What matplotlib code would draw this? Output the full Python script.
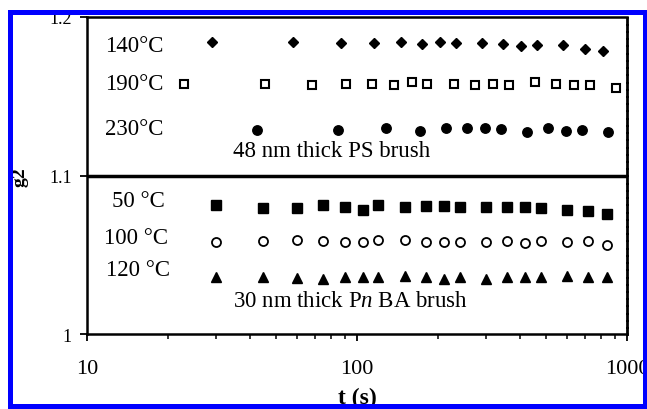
import numpy as np
import matplotlib
matplotlib.use("Agg")
import matplotlib.pyplot as plt
from matplotlib.patches import Rectangle
from matplotlib.ticker import FixedLocator, FixedFormatter, LogLocator, NullFormatter

plt.rcParams['font.family'] = ['Liberation Serif', 'DejaVu Serif']
plt.rcParams['mathtext.fontset'] = 'custom'
plt.rcParams['mathtext.rm'] = 'Liberation Serif'
plt.rcParams['mathtext.it'] = 'Liberation Serif:italic'

# 48 nm PS brush
t_140 = [29, 58, 87, 116, 145, 174, 203, 232, 290, 348, 406, 464, 580, 696, 812]
g_140 = [1.1842, 1.1842, 1.1836, 1.1833, 1.1842, 1.1830, 1.1842, 1.1833, 1.1836,
         1.1830, 1.1820, 1.1823, 1.1823, 1.1798, 1.1785]
t_190 = [22.8, 45.6, 68.4, 91.2, 114, 136.8, 159.6, 182.4, 228, 273.6, 319.2,
         364.8, 456, 547.2, 638.4, 729.6, 912]
g_190 = [1.1577, 1.1580, 1.1571, 1.1577, 1.1577, 1.1571, 1.1590, 1.1577, 1.1577,
         1.1574, 1.1577, 1.1571, 1.1590, 1.1577, 1.1571, 1.1571, 1.1552]
t_230 = [42.6, 85.2, 127.8, 170.4, 213, 255.6, 298.2, 340.8, 426, 511.2, 596.4,
         681.6, 852]
g_230 = [1.1290, 1.1290, 1.1300, 1.1281, 1.1297, 1.1297, 1.1300, 1.1293, 1.1274,
         1.1297, 1.1281, 1.1290, 1.1274]

# 30 nm PnBA brush
t_low = [30, 45, 60, 75, 90, 105, 120, 150, 180, 210, 240, 300, 360, 420, 480,
         600, 720, 840]
g_50 = [1.0817, 1.0792, 1.0792, 1.0811, 1.0804, 1.0785, 1.0814, 1.0801, 1.0808,
        1.0808, 1.0804, 1.0804, 1.0804, 1.0804, 1.0798, 1.0782, 1.0776, 1.0757]
g_100 = [1.0580, 1.0587, 1.0593, 1.0587, 1.0580, 1.0580, 1.0593, 1.0593, 1.0580,
         1.0580, 1.0580, 1.0580, 1.0587, 1.0574, 1.0587, 1.0580, 1.0587, 1.0562]
g_120 = [1.0360, 1.0360, 1.0353, 1.0347, 1.0360, 1.0360, 1.0360, 1.0366, 1.0360,
         1.0347, 1.0360, 1.0347, 1.0360, 1.0360, 1.0360, 1.0366, 1.0360, 1.0360]

fig = plt.figure(figsize=(6.47, 4.10), dpi=100)
ax = fig.add_axes([0.1345, 0.1829, 0.8346, 0.7732])

ax.plot(t_140, g_140, 'D', color='black', ms=5.5, ls='none')
ax.plot(t_190, g_190, 's', mfc='white', mec='black', mew=1.5, ms=6.3, ls='none')
ax.plot(t_230, g_230, 'o', color='black', ms=6.8, ls='none')
ax.plot(t_low, g_50, 's', color='black', ms=6.8, ls='none')
ax.plot(t_low, g_100, 'o', mfc='white', mec='black', mew=1.3, ms=6.5, ls='none')
ax.plot(t_low, g_120, '^', color='black', ms=7.2, ls='none')

ax.axhline(1.1, color='black', lw=2.5)

ax.set_xscale('log')
ax.set_xlim(10, 1000)
ax.set_ylim(1.0, 1.2)

ax.xaxis.set_major_locator(FixedLocator([10, 100, 1000]))
ax.xaxis.set_major_formatter(FixedFormatter(['10', '100', '1000']))
ax.xaxis.set_minor_locator(LogLocator(base=10, subs=np.arange(2, 10)))
ax.xaxis.set_minor_formatter(NullFormatter())
ax.yaxis.set_major_locator(FixedLocator([1.0, 1.1, 1.2]))
ax.yaxis.set_major_formatter(FixedFormatter(['1', '1.1', '1.2']))

ax.tick_params(axis='x', which='major', direction='out', length=5, width=1.3,
               labelsize=16, pad=13)
ax.tick_params(axis='x', which='minor', direction='out', length=3.5, width=1.1)
ax.tick_params(axis='y', which='major', direction='out', length=5, width=1.3,
               labelsize=13, pad=6)

for side in ['left', 'bottom', 'top']:
    ax.spines[side].set_linewidth(1.8)
ax.spines['right'].set_linewidth(2)
ax.spines['right'].set_linestyle((0, (2, 0.6)))

# series labels
txt = dict(fontsize=16.5, ha='left', va='baseline')
ax.text(11.66, 1.1787, '140°C', **txt)
ax.text(11.66, 1.1546, '190°C', **txt)
ax.text(11.66, 1.1262, '230°C', **txt)
ax.text(34.7, 1.1123, '48 nm thick PS brush', **txt)
ax.text(12.37, 1.0808, '50 °C', **txt)
ax.text(11.56, 1.0574, '100 °C', **txt)
ax.text(11.76, 1.0372, '120 °C', **txt)
ax.text(34.7, 1.0177, r'30 nm thick P$\it{n}$ BA brush', **txt)

fig.text(357 / 647, 1 - 404 / 410, 't (s)', fontsize=17, fontweight='bold',
         ha='center', va='baseline')
fig.text(20 / 647, 1 - 177 / 410, 'g2', fontsize=14, fontweight='bold',
         rotation=90, ha='center', va='center')

# blue frame around the figure
fig.add_artist(Rectangle((9.8 / 647, 1 - 407 / 410), (644.5 - 9.8) / 647,
                         (407 - 12.5) / 410, transform=fig.transFigure,
                         fill=False, edgecolor='#0000ff', lw=3.6, zorder=20))

fig.savefig('out.png', dpi=100)
